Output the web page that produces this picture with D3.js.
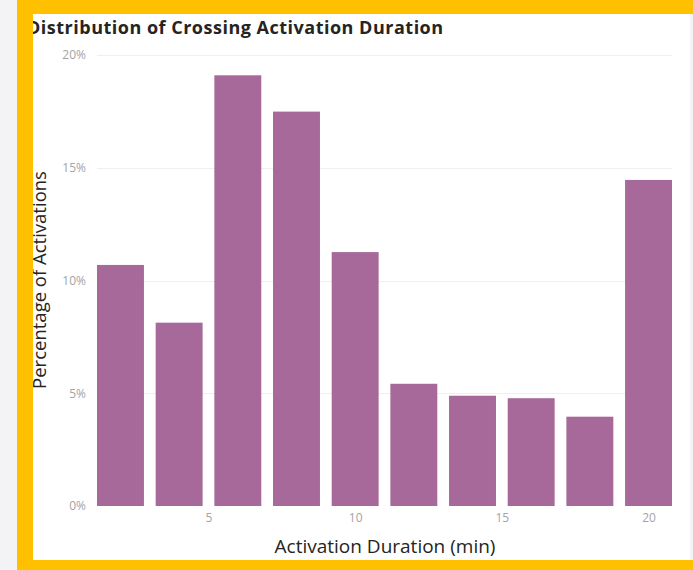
<!DOCTYPE html>
<html>
<head>
<meta charset="utf-8">
<script src="https://cdn.jsdelivr.net/npm/d3@7"></script>
<style>
  html, body { margin: 0; padding: 0; background: #f3f3f6; }
  svg { display: block; }
</style>
</head>
<body>
<svg id="chart" width="693" height="570"></svg>
<script>
// ---- data ----
const binCenters = [2, 4, 6, 8, 10, 12, 14, 16, 18, 20];
const percentages = [10.69, 8.13, 19.10, 17.49, 11.26, 5.42, 4.89, 4.78, 3.96, 14.46];
const xTickValues = [5, 10, 15, 20];
const yTickValues = [0, 5, 10, 15, 20];
const titleText = "Distribution of Crossing Activation Duration";
const xAxisTitle = "Activation Duration (min)";
const yAxisTitle = "Percentage of Activations";

// ---- layout ----
const W = 693, H = 570;
const plot = { left: 97, right: 672, top: 55, bottom: 506 };
const binWidth = 2, barFrac = 0.8;
const barColor = "#a6699a";
const frameColor = "#ffc000";
const font = "'Open Sans', 'Noto Sans', sans-serif";

const svg = d3.select("#chart");

// panel
svg.append("rect").attr("x", 33).attr("y", 14).attr("width", 657).attr("height", 546).attr("fill", "#ffffff");

const x = d3.scaleLinear().domain([1.2, 20.8]).range([plot.left, plot.right]);
const y = d3.scaleLinear().domain([0, 20]).range([plot.bottom, plot.top]);

// gridlines
svg.append("g")
  .selectAll("line")
  .data(yTickValues.filter(d => d > 0))
  .join("line")
  .attr("x1", plot.left).attr("x2", plot.right)
  .attr("y1", d => Math.round(y(d)) + 0.5).attr("y2", d => Math.round(y(d)) + 0.5)
  .attr("stroke", "#efefef").attr("stroke-width", 1);

// y axis
const yAxis = d3.axisLeft(y).tickValues(yTickValues).tickFormat(d => d + "%").tickSize(0).tickPadding(11);
const gy = svg.append("g").attr("transform", `translate(${plot.left},0)`).call(yAxis);
gy.select(".domain").remove();
gy.selectAll("text").attr("fill", "#a3a3a8").style("font-family", font).style("font-size", "12px");

// x axis
const xAxis = d3.axisBottom(x).tickValues(xTickValues).tickFormat(d3.format("d")).tickSize(0).tickPadding(7);
const gx = svg.append("g").attr("transform", `translate(0,${plot.bottom})`).call(xAxis);
gx.select(".domain").remove();
gx.selectAll("text").attr("fill", "#a3a3a8").style("font-family", font).style("font-size", "12px");

// bars
svg.append("g")
  .selectAll("rect")
  .data(binCenters.map((c, i) => ({ c, v: percentages[i] })))
  .join("rect")
  .attr("x", d => x(d.c - binWidth * barFrac / 2))
  .attr("width", d => x(d.c + binWidth * barFrac / 2) - x(d.c - binWidth * barFrac / 2))
  .attr("y", d => y(d.v))
  .attr("height", d => y(0) - y(d.v))
  .attr("fill", barColor);

// titles
svg.append("text")
  .attr("x", 27).attr("y", 34)
  .attr("fill", "#252423")
  .style("font-family", font).style("font-weight", "bold").style("font-size", "18px")
  .style("letter-spacing", "0.5px")
  .text(titleText);

svg.append("text")
  .attr("x", 385).attr("y", 553)
  .attr("text-anchor", "middle")
  .attr("fill", "#252423")
  .style("font-family", font).style("font-size", "19px")
  .text(xAxisTitle);

svg.append("text")
  .attr("transform", `translate(46,280) rotate(-90)`)
  .attr("text-anchor", "middle")
  .attr("fill", "#252423")
  .style("font-family", font).style("font-size", "18.5px")
  .text(yAxisTitle);

// yellow frame (drawn on top)
const frame = svg.append("g").attr("fill", frameColor);
frame.append("rect").attr("x", 17).attr("y", 0).attr("width", W - 17).attr("height", 14);
frame.append("rect").attr("x", 17).attr("y", 0).attr("width", 16).attr("height", H);
frame.append("rect").attr("x", 17).attr("y", 560).attr("width", W - 17).attr("height", 10);
</script>
</body>
</html>
